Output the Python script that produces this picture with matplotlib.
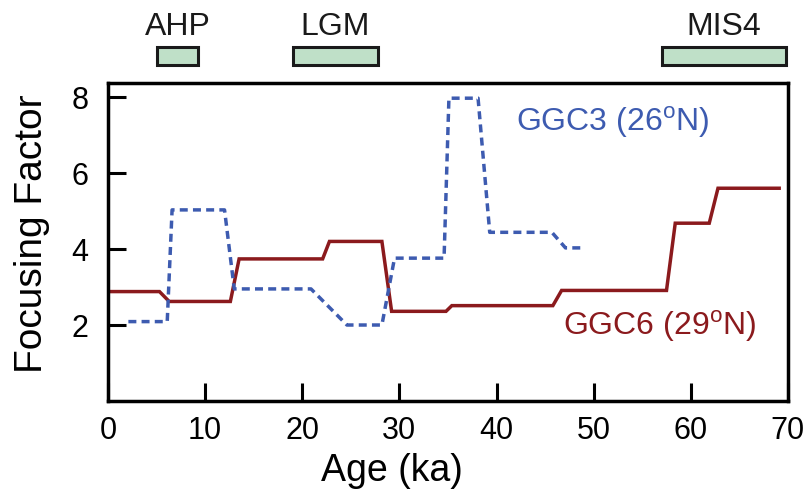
import matplotlib
matplotlib.use("Agg")
import matplotlib.pyplot as plt
from matplotlib.patches import Rectangle

plt.rcParams['font.family'] = ['Liberation Sans', 'DejaVu Sans']
plt.rcParams['mathtext.fontset'] = 'custom'
plt.rcParams['mathtext.rm'] = 'Liberation Sans'

# GGC6 (29N) focusing factor
ggc6_age = [0.3, 5.3, 6.3, 12.6, 13.5, 22.1, 22.8, 28.2, 29.2, 34.8, 35.4, 45.8, 46.7, 57.5, 58.4, 61.9, 62.8, 69.1]
ggc6_ff = [2.88, 2.88, 2.62, 2.62, 3.74, 3.74, 4.2, 4.2, 2.36, 2.36, 2.51, 2.51, 2.91, 2.91, 4.68, 4.68, 5.6, 5.6]

# GGC3 (26N) focusing factor
ggc3_age = [2.1, 6.1, 6.6, 12.0, 13.0, 20.9, 24.6, 28.2, 29.5, 34.6, 35.1, 38.1, 39.3, 45.7, 47.1, 48.8]
ggc3_ff = [2.09, 2.09, 5.03, 5.03, 2.95, 2.95, 2.0, 2.0, 3.76, 3.76, 7.97, 7.97, 4.44, 4.44, 4.03, 4.03]

# climate intervals
period_names = ['AHP', 'LGM', 'MIS4']
period_start = [5.0, 19.0, 57.0]
period_end = [9.3, 27.8, 69.8]

x_ticks = [0, 10, 20, 30, 40, 50, 60, 70]
y_ticks = [2, 4, 6, 8]

red = '#8b1a1d'
blue = '#3d5bb0'

fig = plt.figure(figsize=(8.04, 5.0), dpi=100)
ax = fig.add_axes([0.1343, 0.198, 0.8457, 0.636])

ax.plot(ggc6_age, ggc6_ff, color=red, lw=2.5, solid_joinstyle='miter')
ax.plot(ggc3_age, ggc3_ff, color=blue, lw=2.5, dashes=(2.3, 1.5))

ax.set_xlim(0, 70)
ax.set_ylim(0, 8.37)
ax.set_xticks(x_ticks)
ax.set_yticks(y_ticks)
ax.tick_params(direction='in', length=13, width=2.2, labelsize=22, color='black')
ax.tick_params(axis='y', pad=14)
ax.tick_params(axis='x', pad=11)
for s in ax.spines.values():
    s.set_linewidth(2.5)

ax.set_xlabel('Age (ka)', fontsize=27)
ax.xaxis.set_label_coords(0.418, -0.165)
ax.set_ylabel('Focusing Factor', fontsize=28)
ax.yaxis.set_label_coords(-0.086, 0.525)

ax.text(42.0, 7.35, 'GGC3 (26$^{\\rm o}$N)', color=blue, fontsize=23, va='center', ha='left')
ax.text(46.8, 1.96, 'GGC6 (29$^{\\rm o}$N)', color=red, fontsize=23, va='center', ha='left')

trans = ax.get_xaxis_transform()
for name, s, e in zip(period_names, period_start, period_end):
    r = Rectangle((s, 1.058), e - s, 0.055, transform=trans, clip_on=False,
                  facecolor='#bfe0c8', edgecolor='#1a1a1a', lw=2.2)
    ax.add_patch(r)
    ax.text((s + e) / 2, 1.15, name, transform=trans, ha='center', va='baseline',
            fontsize=23, color='#1a1a1a')

fig.savefig('out.png', dpi=100)
